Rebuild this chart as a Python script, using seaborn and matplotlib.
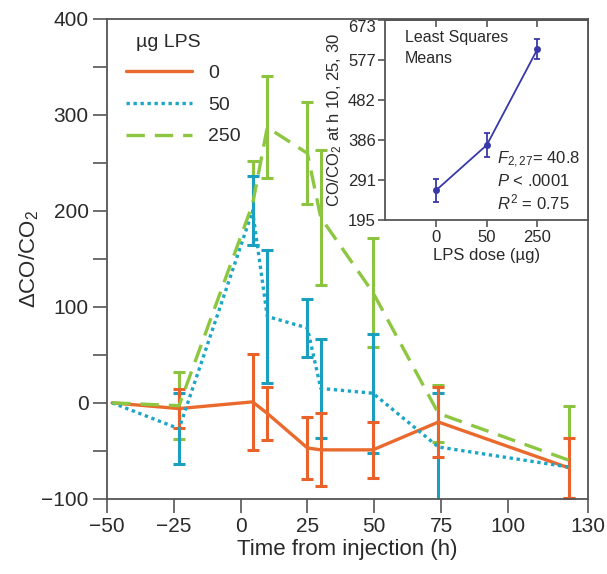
import numpy as np
import pandas as pd
import matplotlib
matplotlib.use("Agg")
import matplotlib.pyplot as plt
import seaborn as sns

# time points (h from injection)
times = [-48, -23, 4.5, 10, 25, 30, 49.5, 74, 123]

# dCO/CO2 means and error bars per LPS dose
lps0_mean = [0, -6, 1, -11, -47, -49, -49, -20, -68]
lps0_err = [np.nan, 20, 50, 28, 32, 38, 29, 36, 31]

lps50_mean = [0, -27, 200, 90, 78, 15, 10, -46, -67]
lps50_err = [np.nan, 37, 36, 69, 30, 52, 62, 56, np.nan]

lps250_mean = [0, -3, 207, 287, 260, 193, 115, -11, -60]
lps250_err_lo = [np.nan, 35, 43, 53, 53, 70, 57, 30, 39]
lps250_err_hi = [np.nan, 35, 45, 54, 53, 70, 57, 30, 57]

# inset: least squares means
dose_labels = ["0", "50", "250"]
lsm_mean = [267, 375, 604]
lsm_err = [28, 29, 25]
inset_yticks = [195, 291, 386, 482, 577, 673]

col = {"0": "#ea6a2e", "50": "#1ba6c6", "250": "#8dc641"}
ebar_col = {"0": "#e8622a", "50": "#1a9fc0", "250": "#8cc43f"}
txt = "#2a2a2a"
spine_col = "#555555"

sns.set_theme(style="ticks")
plt.rcParams["font.family"] = ["Liberation Sans", "DejaVu Sans"]
plt.rcParams["mathtext.fontset"] = "custom"
plt.rcParams["mathtext.rm"] = "Liberation Sans"
plt.rcParams["mathtext.it"] = "Liberation Sans:italic"
plt.rcParams["text.color"] = txt
plt.rcParams["axes.labelcolor"] = txt
plt.rcParams["xtick.color"] = spine_col
plt.rcParams["ytick.color"] = spine_col
plt.rcParams["xtick.labelcolor"] = txt
plt.rcParams["ytick.labelcolor"] = txt

rows = []
for dose, vals in [("0", lps0_mean), ("50", lps50_mean), ("250", lps250_mean)]:
    for t, v in zip(times, vals):
        rows.append({"time": t, "value": v, "dose": dose})
df = pd.DataFrame(rows)

fig = plt.figure(figsize=(6.07, 5.74), dpi=100)
ax = fig.add_axes([0.176, 0.131, 0.793, 0.836])

sns.lineplot(data=df, x="time", y="value", hue="dose", style="dose",
             hue_order=["0", "50", "250"], style_order=["0", "50", "250"],
             palette=col, dashes={"0": "", "50": (1, 1.1), "250": (5.5, 3)},
             linewidth=2.4, ax=ax, legend=True, zorder=3)

# error bars (capsize is half the cap width)
ax.errorbar(times, lps250_mean, yerr=[lps250_err_lo, lps250_err_hi], fmt="none",
            ecolor=ebar_col["250"], elinewidth=2.2, capsize=4.2, capthick=2.2, zorder=2)
ax.errorbar(times, lps50_mean, yerr=lps50_err, fmt="none",
            ecolor=ebar_col["50"], elinewidth=2.2, capsize=4.2, capthick=2.2, zorder=2)
ax.errorbar(times, lps0_mean, yerr=lps0_err, fmt="none",
            ecolor=ebar_col["0"], elinewidth=2.2, capsize=4.2, capthick=2.2, zorder=2)

ax.set_xlim(-50, 130)
ax.set_ylim(-100, 400)
ax.set_xticks([-50, -25, 0, 25, 50, 75, 100, 130])
ax.set_xticklabels(["\u221250", "\u221225", "0", "25", "50", "75", "100", "130"])
ax.set_yticks(np.arange(-100, 401, 50))
ax.set_yticklabels(["\u2212100" if v == -100 else (str(v) if v % 100 == 0 else "")
                    for v in np.arange(-100, 401, 50)])
ax.tick_params(axis="both", direction="out", length=10, width=1.2, labelsize=15, pad=3)
for s in ax.spines.values():
    s.set_color(spine_col)
    s.set_linewidth(1.3)
ax.set_xlabel("Time from injection (h)", fontsize=16, labelpad=2)
ax.set_ylabel("\u0394CO/CO$_2$", fontsize=16, labelpad=0)

handles, labels = ax.get_legend_handles_labels()
leg = ax.legend(handles, labels, title="\u00b5g LPS", loc="upper left",
                bbox_to_anchor=(0.0, 1.01), frameon=False, fontsize=14,
                title_fontsize=14, handlelength=3.4, labelspacing=0.72,
                alignment="left", borderaxespad=0.6)
leg.get_title().set_position((10, 0))

# inset
ins = fig.add_axes([0.635, 0.616, 0.334, 0.349])
ins.set_facecolor("white")
inset_df = pd.DataFrame({"pos": [0, 1, 2], "lsm": lsm_mean})
sns.lineplot(data=inset_df, x="pos", y="lsm", color="#3838a8", linewidth=1.3,
             marker="o", markersize=5, markeredgewidth=0, ax=ins)
ins.errorbar(inset_df["pos"], lsm_mean, yerr=lsm_err, fmt="none", ecolor="#3838a8",
             elinewidth=1.3, capsize=2.5, capthick=1.3)
ins.set_xlim(-1, 3)
ins.set_ylim(195, 673)
ins.set_xticks([0, 1, 2])
ins.set_xticklabels(dose_labels)
ins.set_yticks(inset_yticks)
ins.tick_params(axis="both", direction="out", length=5, width=1.2, labelsize=12, pad=2)
top = ins.secondary_xaxis("top")
top.set_xticks([0, 1, 2])
top.tick_params(direction="in", length=5, width=1.2, labeltop=False, color=spine_col)
top.spines["top"].set_color(spine_col)
top.spines["top"].set_linewidth(1.3)
for lab in ins.get_yticklabels():
    if lab.get_text() == "673":
        lab.set_va("top")
for s in ins.spines.values():
    s.set_color(spine_col)
    s.set_linewidth(1.3)
ins.set_xlabel("LPS dose (\u00b5g)", fontsize=12, labelpad=2)
ins.set_ylabel("CO/CO$_2$ at h 10, 25, 30", fontsize=12, labelpad=3)
ins.text(0.095, 0.95, "Least Squares\nMeans", transform=ins.transAxes, fontsize=11.5,
         va="top", ha="left", linespacing=1.45)
ins.text(0.55, 0.30, "$F_{2,27}$= 40.8", transform=ins.transAxes, fontsize=12, va="center")
ins.text(0.55, 0.195, "$P$ < .0001", transform=ins.transAxes, fontsize=12, va="center")
ins.text(0.55, 0.09, "$R^2$ = 0.75", transform=ins.transAxes, fontsize=12, va="center")

fig.savefig("out.png", dpi=100)
